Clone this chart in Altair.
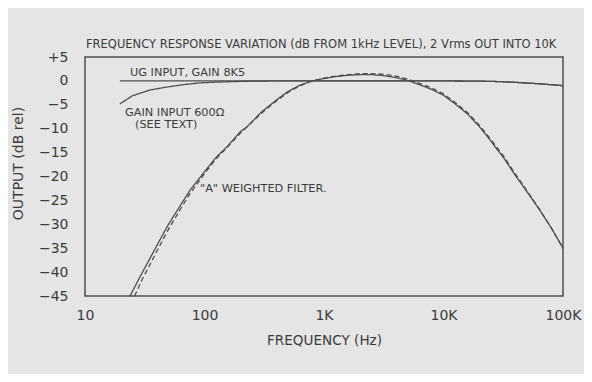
import altair as alt
import pandas as pd

# ---- data ----
A_FREQ = [23.8, 30, 40, 50, 63, 76, 100, 125, 154, 200, 227, 300, 400, 500, 630, 800,
          1000, 1250, 1600, 2000, 2500, 3150, 4000, 5000, 6300, 8000, 10000, 12500,
          14500, 16000, 20000, 25000, 28000, 31500, 40000, 50000, 63000, 80000, 100000]
A_SOLID = [-45.0, -40.2, -34.4, -30.0, -26.0, -22.8, -19.0, -16.0, -13.8, -10.6, -9.6, -6.5,
           -4.0, -2.2, -0.9, 0.0, 0.5, 0.9, 1.2, 1.3, 1.3, 1.1, 0.7, 0.1, -0.8, -1.8, -3.0,
           -4.8, -6.1, -7.0, -9.6, -12.6, -14.3, -15.9, -19.8, -23.2, -26.8, -30.8, -35.0]

AD_FREQ = [26, 30, 40, 50, 63, 76, 100, 125, 160, 200, 250, 315, 400, 500, 630, 800, 1000,
           1250, 1600, 2000, 2500, 3150, 4000, 5000, 6300, 8000, 10000, 12500, 16000,
           20000, 25000, 31500, 40000, 50000, 63000, 80000, 100000]
A_DASHED = [-45.0, -41.6, -35.6, -31.0, -26.8, -23.5, -19.4, -16.3, -13.5, -10.9, -8.6, -6.3,
            -4.2, -2.4, -1.0, 0.0, 0.6, 1.0, 1.3, 1.5, 1.5, 1.4, 1.0, 0.4, -0.5, -1.5, -2.7,
            -4.5, -6.7, -9.3, -12.3, -15.6, -19.5, -23.0, -26.7, -30.8, -35.0]

UG_FREQ = [19.6, 100, 1000, 10000, 20000, 30000, 40000, 50000, 63000, 80000, 100000]
UG_DB = [0, 0, 0, 0, -0.05, -0.15, -0.3, -0.45, -0.6, -0.8, -1.0]

G6_FREQ = [19.6, 25, 35, 48, 66, 92, 130, 173, 250, 400, 1000, 10000, 20000, 30000, 40000,
           50000, 63000, 80000, 100000]
G6_DB = [-4.8, -3.1, -1.9, -1.3, -0.8, -0.4, -0.25, -0.15, -0.05, 0, 0, 0, -0.05, -0.15,
         -0.3, -0.45, -0.6, -0.8, -1.0]

NOTE_TEXT = ["UG INPUT, GAIN 8K5", "GAIN INPUT 600Ω", "(SEE TEXT)", "\"A\" WEIGHTED FILTER."]
NOTE_F = [23.8, 21.6, 26.2, 91.6]
NOTE_DB = [1.7, -6.7, -9.2, -22.6]

X_TICKS = [10, 100, 1000, 10000, 100000]
Y_TICKS = [5, 0, -5, -10, -15, -20, -25, -30, -35, -40, -45]

TITLE = "FREQUENCY RESPONSE VARIATION (dB FROM 1kHz LEVEL), 2 Vrms OUT INTO 10K"

rows = []
for name, fs, ds in [("A solid", A_FREQ, A_SOLID), ("A dashed", AD_FREQ, A_DASHED),
                     ("UG", UG_FREQ, UG_DB), ("600", G6_FREQ, G6_DB)]:
    for f, d in zip(fs, ds):
        rows.append({"series": name, "f": f, "db": d})
df = pd.DataFrame(rows)
notes = pd.DataFrame({"text": NOTE_TEXT, "f": NOTE_F, "db": NOTE_DB})

FONT = "DejaVu Sans"
INK = "#3c3c3c"
LINE = "#4e4e4e"
BG = "#e5e5e5"

xscale = alt.Scale(type="log", domain=[10, 100000], nice=False)
yscale = alt.Scale(domain=[-45, 5], nice=False, zero=False)

xaxis = alt.Axis(values=X_TICKS, title="FREQUENCY (Hz)", grid=False, ticks=False, domain=False,
                 labelExpr="datum.value >= 1000 ? (datum.value / 1000) + 'K' : datum.value",
                 labelFontSize=14, labelFont=FONT, labelColor=INK, labelPadding=12,
                 labelFlush=False, labelOverlap=False,
                 titleFont=FONT, titleFontSize=13.6, titleFontWeight="normal", titleColor=INK,
                 titleBaseline="middle", titleY=44)
yaxis = alt.Axis(values=Y_TICKS, title="OUTPUT (dB rel)", grid=False, ticks=False, domain=False,
                 labelExpr="datum.value > 0 ? '+' + datum.value : (datum.value < 0 ? '\u2212' + abs(datum.value) : '0')",
                 labelFontSize=14, labelFont=FONT, labelColor=INK, labelPadding=17,
                 labelFlush=False, labelOverlap=False, labelSeparation=0,
                 titleFont=FONT, titleFontSize=14, titleFontWeight="normal", titleColor=INK,
                 titleBaseline="middle", titleX=-67, titleY=106)

lines = alt.Chart(df).mark_line(strokeWidth=1.3, color=LINE).encode(
    x=alt.X("f:Q", scale=xscale, axis=xaxis),
    y=alt.Y("db:Q", scale=yscale, axis=yaxis),
    detail="series:N",
    strokeDash=alt.StrokeDash("series:N",
                              scale=alt.Scale(domain=["A solid", "A dashed", "UG", "600"],
                                              range=[[1, 0], [5, 3], [1, 0], [1, 0]]),
                              legend=None),
)

text = alt.Chart(notes).mark_text(align="left", baseline="middle", font=FONT, fontSize=11.3,
                                  color=INK).encode(
    x=alt.X("f:Q", scale=xscale, axis=xaxis),
    y=alt.Y("db:Q", scale=yscale, axis=yaxis),
    text="text:N",
)

title = alt.Chart(pd.DataFrame({"t": [TITLE]})).mark_text(
    align="left", baseline="alphabetic", font=FONT, fontSize=11.5, color=INK
).encode(x=alt.value(1), y=alt.value(-9), text="t:N")

chart = alt.layer(lines, text, title).properties(
    width=478, height=239,
    padding={"left": 77, "top": 49, "right": 21, "bottom": 78},
    autosize=alt.AutoSizeParams(type="none"),
    background=BG,
).configure_view(stroke="#505050", strokeWidth=1.5, fill=BG)

chart.save("out.html", embed_options={"renderer": "svg", "actions": False})
